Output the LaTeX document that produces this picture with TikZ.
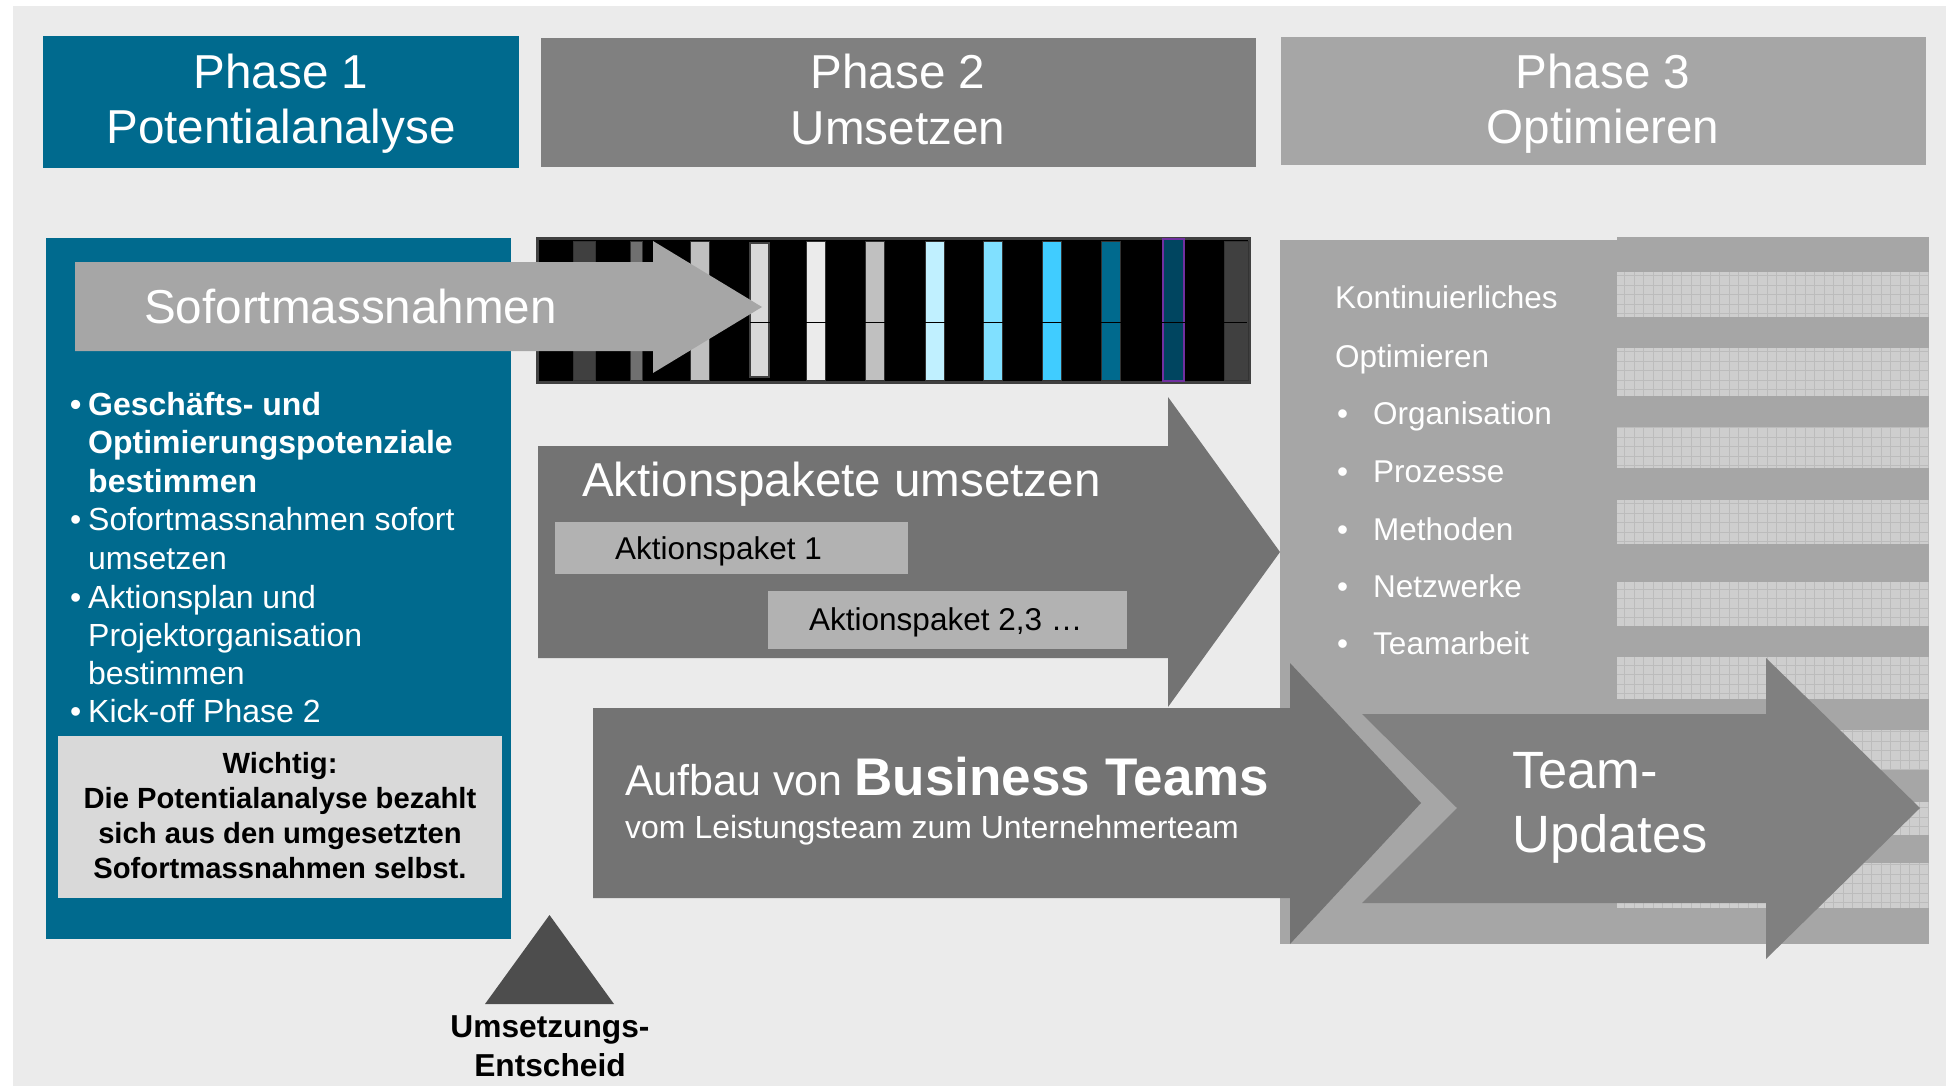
\documentclass[tikz,border=0pt]{standalone}
\usepackage{fontspec}
\setmainfont{Liberation Sans}
\usepackage{tikz}

\definecolor{petrol}{RGB}{0,106,142}
\definecolor{bggrey}{RGB}{235,235,235}
\definecolor{midgrey}{RGB}{128,128,128}
\definecolor{lightgrey}{RGB}{166,166,166}
\definecolor{darkgrey}{RGB}{115,115,115}
\definecolor{boxgrey}{RGB}{178,178,178}
\definecolor{notegrey}{RGB}{217,217,217}
\definecolor{trigrey}{RGB}{77,77,77}
\definecolor{gridfill}{RGB}{206,206,206}
\definecolor{gridline}{RGB}{188,188,188}
\definecolor{frameg}{RGB}{64,64,64}
\definecolor{sA}{HTML}{404040}
\definecolor{sB}{HTML}{707070}
\definecolor{sC}{HTML}{C0C0C0}
\definecolor{sD}{HTML}{D9D9D9}
\definecolor{sE}{HTML}{EBEBEB}
\definecolor{sF}{HTML}{C0F0FF}
\definecolor{sG}{HTML}{80E0FF}
\definecolor{sH}{HTML}{40CCFF}
\definecolor{sI}{HTML}{006A8E}
\definecolor{sJ}{HTML}{004560}
\definecolor{purp}{HTML}{7030A0}

\begin{document}
\begin{tikzpicture}[x=1pt,y=1pt,yscale=-1,xscale=1,
  title/.style={text=white,inner sep=0pt,anchor=base,font=\fontsize{47.6}{56}\selectfont},
  bigtxt/.style={text=white,inner sep=0pt,anchor=base west,font=\fontsize{47.6}{56}\selectfont},
  listtxt/.style={text=white,inner sep=0pt,anchor=base west,font=\fontsize{32}{38}\selectfont},
  boldtxt/.style={listtxt,font=\fontsize{32}{38}\selectfont\bfseries},
  notetxt/.style={text=black,inner sep=0pt,anchor=base,font=\fontsize{29.2}{35}\selectfont\bfseries},
  pakettxt/.style={text=black,inner sep=0pt,anchor=base west,font=\fontsize{31.5}{38}\selectfont},
  teamtxt/.style={text=white,inner sep=0pt,anchor=base west,font=\fontsize{52.5}{64}\selectfont}]
\useasboundingbox (0,0) rectangle (1946,1086);

%Shape: Background
\fill[bggrey] (13,6) rectangle (1946,1086);

%Shape: Rectangle phase headers
\fill[petrol] (43,36) rectangle (519,168);
\fill[midgrey] (541,38) rectangle (1256,167);
\fill[lightgrey] (1281,37) rectangle (1926,165);

%Shape: Rectangle phase 3 panel
\fill[lightgrey] (1280,240) rectangle (1617,944);
\fill[lightgrey] (1617,237) rectangle (1929,944);
\foreach \a/\b in {272/317,348/396,427/468,500/544,582/626,657/699,730/770,802/835,863/908}{
  \fill[gridfill] (1617,\a) rectangle (1929,\b);
  \draw[gridline,line width=0.6,step=9.5] (1617,\a) grid (1929,\b);
}

%Shape: Rectangle phase 1 panel
\fill[petrol] (46,238) rectangle (511,939);

%Shape: film strip
\filldraw[fill=black,draw=frameg,line width=3] (537,238) rectangle (1249,382);
\foreach \xs/\w/\c in {573/22/sA,630/12/sB,690/19/sC,806/19/sE,865/19/sC,925/19/sF,983/19/sG,1042/19/sH,1101/19/sI,1224/24/sA}{
  \filldraw[fill=\c,draw=black!80,line width=1] (\xs,241) rectangle ({\xs+\w},380);
}
\filldraw[fill=sD,draw=frameg,line width=2.5] (750,243) rectangle (769,377);
\filldraw[fill=sJ,draw=purp,line width=2] (1163,239) rectangle (1184,381);
\draw[black,line width=1] (750,322) -- (1247,322);

%Shape: Arrow Sofortmassnahmen
\fill[lightgrey] (75,262) -- (653,262) -- (653,241) -- (762,307) -- (653,373) -- (653,351) -- (75,351) -- cycle;

%Shape: Arrow Aktionspakete
\fill[darkgrey] (538,446) -- (1168,446) -- (1168,397) -- (1280,552) -- (1168,707) -- (1168,658) -- (538,658) -- cycle;
\fill[boxgrey] (555,522) rectangle (908,574);
\fill[boxgrey] (768,591) rectangle (1127,649);

%Shape: Wichtig box
\fill[notegrey] (58,736) rectangle (502,898);

%Shape: Triangle
\fill[trigrey] (549.5,915) -- (614,1004) -- (485,1004) -- cycle;

%Shape: Arrow Business Teams
\fill[darkgrey] (593,708) -- (1290,708) -- (1290,663) -- (1421,803) -- (1290,944) -- (1290,898) -- (593,898) -- cycle;

%Shape: Arrow Team-Updates
\fill[midgrey] (1362,714) -- (1766,714) -- (1766,658) -- (1920,808) -- (1766,959) -- (1766,903) -- (1362,903) -- (1457,808) -- cycle;

% Text Node
\node[title] (ph1a) at (281,89) {Phase 1};
\node[title] (ph1b) at (281,144) {Potentialanalyse};
\node[title] (ph2a) at (898,89) {Phase 2};
\node[title] (ph2b) at (898,145) {Umsetzen};
\node[title] (ph3a) at (1603,89) {Phase 3};
\node[title] (ph3b) at (1603,144) {Optimieren};
% Text Node
\node[bigtxt] (sofort) at (144,323) {Sofortmassnahmen};
% Text Node
\node[boldtxt] (b1) at (70,415) {•};
\node[boldtxt] (l1) at (88,415) {Geschäfts- und};
\node[boldtxt] (l2) at (88,453) {Optimierungspotenziale};
\node[boldtxt] (l3) at (88,492) {bestimmen};
\node[listtxt] (b2) at (70,530) {•};
\node[listtxt] (l4) at (88,530) {Sofortmassnahmen sofort};
\node[listtxt] (l5) at (88,569) {umsetzen};
\node[listtxt] (b3) at (70,608) {•};
\node[listtxt] (l6) at (88,608) {Aktionsplan und};
\node[listtxt] (l7) at (88,646) {Projektorganisation};
\node[listtxt] (l8) at (88,684) {bestimmen};
\node[listtxt] (b4) at (70,722) {•};
\node[listtxt] (l9) at (88,722) {Kick-off Phase 2};
% Text Node
\node[notetxt] (n1) at (280,773) {Wichtig:};
\node[notetxt] (n2) at (280,808) {Die Potentialanalyse bezahlt};
\node[notetxt] (n3) at (280,843) {sich aus den umgesetzten};
\node[notetxt] (n4) at (280,878) {Sofortmassnahmen selbst.};
% Text Node
\node[notetxt,font=\fontsize{31.7}{38}\selectfont\bfseries] (ent1) at (550,1037) {Umsetzungs-};
\node[notetxt,font=\fontsize{31.7}{38}\selectfont\bfseries] (ent2) at (550,1076) {Entscheid};
% Text Node
\node[bigtxt] (akt) at (582,496) {Aktionspakete umsetzen};
\node[pakettxt] (ap1) at (615,559) {Aktionspaket 1};
\node[pakettxt] (ap2) at (809,630) {Aktionspaket 2,3 …};
% Text Node
\node[text=white,inner sep=0pt,anchor=base west] (aufbau) at (625,795) {{\fontsize{43}{50}\selectfont Aufbau von }{\fontsize{53}{60}\selectfont\bfseries Business Teams}};
\node[listtxt] (vom) at (625,838) {vom Leistungsteam zum Unternehmerteam};
% Text Node
\node[teamtxt] (tu1) at (1512,788) {Team-};
\node[teamtxt] (tu2) at (1512,852) {Updates};
% Text Node
\node[listtxt,font=\fontsize{31.5}{38}\selectfont] (k1) at (1335,308) {Kontinuierliches};
\node[listtxt,font=\fontsize{31.5}{38}\selectfont] (k2) at (1335,367) {Optimieren};
\foreach \yy/\tt [count=\i] in {424/Organisation,482/Prozesse,540/Methoden,597/Netzwerke,654/Teamarbeit}{
  \node[listtxt,font=\fontsize{31.5}{38}\selectfont] (kb\i) at (1337,\yy) {•};
  \node[listtxt,font=\fontsize{31.5}{38}\selectfont] (ki\i) at (1373,\yy) {\tt};
}

\end{tikzpicture}
\end{document}
